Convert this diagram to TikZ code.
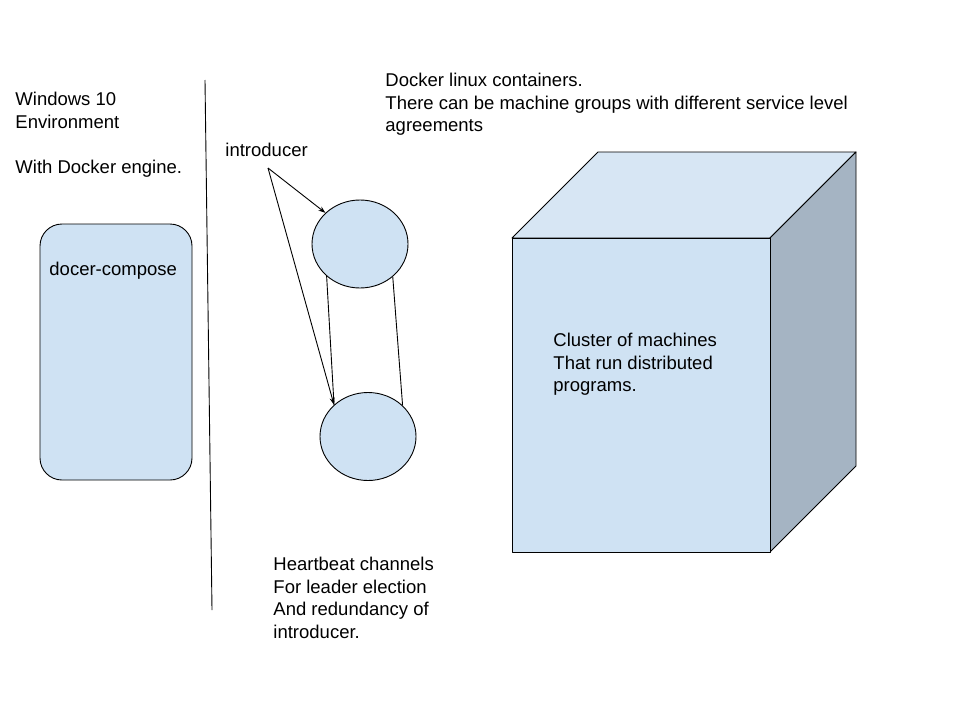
\documentclass[tikz,border=0pt]{standalone}
\usepackage{fontspec}
\setmainfont{Liberation Sans}
\usetikzlibrary{shapes.geometric,arrows.meta}
\definecolor{lblue}{HTML}{CFE2F3}
\definecolor{ltop}{HTML}{D7E6F4}
\definecolor{lside}{HTML}{A5B4C3}
\begin{document}
\begin{tikzpicture}[x=1pt,y=-1pt,line width=0.9pt,
  txt/.style={anchor=north west,inner sep=0pt,align=left,font=\fontsize{18.5}{22.5}\selectfont},
  blob/.style={ellipse,draw,fill=lblue,inner sep=0pt,minimum width=96pt,minimum height=88pt},
  arr/.style={-{Stealth[length=7pt,width=5pt]}}]
\useasboundingbox (0,0) rectangle (960,720);
\fill[white] (0,0) rectangle (960,720);
% divider
\coordinate (vtop) at (205,80);
\coordinate (vbot) at (212,610);
\draw (vtop) -- (vbot);
% left texts
\node[txt] (win) at (15,92) {Windows 10\\Environment\\[22.5pt]With Docker engine.};
\node[draw,fill=lblue,rounded corners=22pt,minimum width=152pt,minimum height=256pt,inner sep=0pt] (dc) at (116,352) {};
\node[txt] (dctext) at (49,262) {docer-compose};
% introducer
\node[txt] (intro) at (225,143) {introducer};
\node[blob] (e1) at (360,244) {};
\node[blob] (e2) at (368,436.5) {};
\coordinate (src) at (268,168);
\draw[arr] (src) -- (e1.138);
\draw[arr] (src) -- (e2.137);
\draw (e1.224) -- (e2.137);
\draw (e1.315) -- (e2.42);
\node[txt] (hb) at (273,557) {Heartbeat channels\\For leader election\\And redundancy of\\introducer.};
% docker text
\node[txt] (dock) at (385,73) {Docker linux containers.\\There can be machine groups with different service level\\agreements};
% cube
\coordinate (a) at (512,238);
\coordinate (b) at (770,238);
\coordinate (c) at (770,552);
\coordinate (d) at (512,552);
\coordinate (bt) at (598,152);
\coordinate (ct) at (856,152);
\coordinate (cb) at (856,466);
\filldraw[fill=ltop,line join=round] (a) -- (bt) -- (ct) -- (b) -- cycle;
\filldraw[fill=lside,line join=round] (b) -- (ct) -- (cb) -- (c) -- cycle;
\filldraw[fill=lblue,line join=round] (a) -- (b) -- (c) -- (d) -- cycle;
\node[txt] (cl) at (553,333) {Cluster of machines\\That run distributed\\programs.};
\end{tikzpicture}
\end{document}
